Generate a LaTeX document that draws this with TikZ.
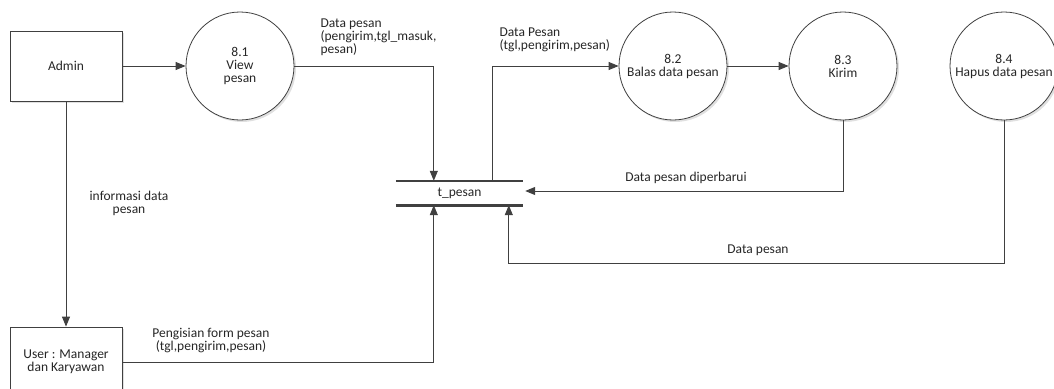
\documentclass[tikz,border=0pt]{standalone}
\usepackage{fontspec}
\setmainfont{Carlito}
\usetikzlibrary{positioning,calc,arrows.meta,shadows}

\begin{document}
\begin{tikzpicture}[x=1pt,y=-1pt,
  every node/.style={font=\fontsize{13.5}{13}\selectfont, text=black!85},
  shdw/.style={drop shadow={shadow xshift=2pt, shadow yshift=-2pt, fill=black!12, opacity=1}},
  entity/.style={draw=black!75, line width=0.8pt, fill=white, shdw,
                 minimum width=112pt, minimum height=70pt, align=center},
  proc/.style={circle, draw=black!75, line width=0.8pt, fill=white, shdw,
               minimum size=108pt, inner sep=0pt, align=center},
  flow/.style={line width=1pt, draw=black!75, -{Triangle[length=10pt,width=8pt]}},
  storeline/.style={line width=2.6pt, draw=black!75}]

\useasboundingbox (0,0) rectangle (1054,388);

\node[entity] (admin) at (66,66) {Admin};
\node[entity] (user)  at (66,362) {User : Manager\\dan Karyawan};

\node[proc] (p1) at (240,66)  {8.1\\View\\pesan};
\node[proc] (p2) at (673,66)  {8.2\\Balas data pesan};
\node[proc] (p3) at (843,66)  {8.3\\Kirim};
\node[proc] (p4) at (1004,66) {8.4\\Hapus data pesan};

\node[minimum width=127pt, minimum height=24pt, inner sep=0pt] (store) at (459.5,193) {t\_pesan};
\draw[storeline] (store.north west) -- (store.north east);
\draw[storeline] (store.south west) -- (store.south east);

\draw[flow] (admin) -- (p1);
\draw[flow] (p1.east) -| ($(store.north west)+(38,0)$);
\draw[flow] ($(store.north west)+(97,0)$) |- (p2.west);
\draw[flow] (p2) -- (p3);
\draw[flow] (p3.south) |- ($(store.east)+(2,-2)$);
\draw[flow] (p4.south) -- ++(0,143) -| ($(store.south west)+(113,0)$);
\draw[flow] (admin) -- (user);
\draw[flow] (user.east) -| ($(store.south west)+(38,0)$);

\node[align=left, anchor=west] at (317,37) {Data pesan\\(pengirim,tgl\_masuk,\\pesan)};
\node[align=left, anchor=west] at (496,40) {Data Pesan\\(tgl,pengirim,pesan)};
\node at (686,178) {Data pesan diperbarui};
\node at (758,250) {Data pesan};
\node[align=center] at (129,203) {informasi data\\pesan};
\node[align=center] at (211,341) {Pengisian form pesan\\(tgl,pengirim,pesan)};
\end{tikzpicture}
\end{document}
